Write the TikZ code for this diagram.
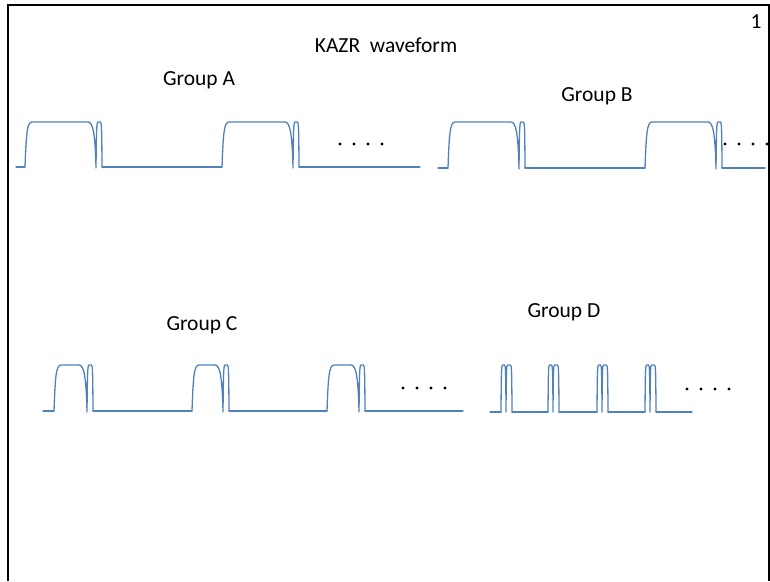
\documentclass[tikz,border=0pt]{standalone}
\usepackage{fontspec}
\setmainfont{Carlito}
\definecolor{wavecol}{RGB}{79,129,189}
\tikzset{
  wave/.style={draw=wavecol, line width=1.3pt, line join=round, line cap=round},
  frameline/.style={draw=black, line width=2pt},
  lbl/.style={inner sep=0pt, font=\fontsize{21.5}{26}\selectfont},
  dotmark/.style={fill=black, draw=none}
}
% wide pulse followed by a narrow pulse: #1 rise x, #2 dip x, #3 baseline y, #4 top y
\newcommand\kazrwide[4]{%
  \draw[wave] (#1,#3) .. controls (#1+1.2,#4+12) and (#1+2,#4) .. (#1+7,#4)
    -- (#2-8,#4) .. controls (#2-3,#4) and (#2-0.8,#4+12) .. (#2,#3+1)
    .. controls (#2+0.4,#4+10) and (#2+0.5,#4) .. (#2+2,#4)
    -- (#2+4.5,#4) .. controls (#2+5.6,#4) and (#2+5.8,#4+8) .. (#2+6,#3);}
% pair of narrow pulses: #1 rise x, #2 baseline y, #3 top y
\newcommand\kazrpair[3]{%
  \draw[wave] (#1,#2) .. controls (#1+0.3,#3+8) and (#1+0.4,#3) .. (#1+1.5,#3)
    -- (#1+3.5,#3) .. controls (#1+4.6,#3) and (#1+4.8,#3+8) .. (#1+5,#2)
    .. controls (#1+5.3,#3+8) and (#1+5.4,#3) .. (#1+6.5,#3)
    -- (#1+9.5,#3) .. controls (#1+10.6,#3) and (#1+10.8,#3+8) .. (#1+11,#2);}
\newcommand\kazrdots[2]{%
  \foreach \dx in {0,14,28,42} \fill[dotmark] (#1+\dx,#2) circle (1.6);}
\begin{document}
\begin{tikzpicture}[x=1pt,y=-1pt]
\useasboundingbox (0,0) rectangle (770,581);
% page frame
\draw[frameline] (8,581) -- (8,5) -- (769,5) -- (769,581);

% titles
\node[lbl] (title) at (386,45) {KAZR\ \ waveform};
\node[lbl] (pagenum) at (756,22) {1};
\node[lbl] (ga) at (199,80) {Group A};
\node[lbl] (gb) at (597,96) {Group B};
\node[lbl] (gc) at (202,325) {Group C};
\node[lbl] (gd) at (564,312) {Group D};

% Group A
\draw[wave] (16,167) -- (25,167);
\kazrwide{25}{96}{167}{122}
\draw[wave] (102,167) -- (222,167);
\kazrwide{222}{293}{167}{122}
\draw[wave] (299,167) -- (420,167);
\kazrdots{340}{144}

% Group B
\draw[wave] (438,168) -- (448,168);
\kazrwide{448}{519}{168}{122}
\draw[wave] (525,168) -- (645,168);
\kazrwide{645}{716}{168}{122}
\draw[wave] (722,168) -- (765,168);
\kazrdots{725}{144}

% Group C
\draw[wave] (43,411) -- (54,411);
\kazrwide{54}{87}{411}{365}
\draw[wave] (93,411) -- (192,411);
\kazrwide{192}{223}{411}{365}
\draw[wave] (229,411) -- (327,411);
\kazrwide{327}{359}{411}{365}
\draw[wave] (365,411) -- (463,411);
\kazrdots{403}{388}

% Group D
\draw[wave] (490,412) -- (501,412);
\kazrpair{501}{412}{365}
\draw[wave] (512,412) -- (548,412);
\kazrpair{548}{412}{365}
\draw[wave] (559,412) -- (597,412);
\kazrpair{597}{412}{365}
\draw[wave] (608,412) -- (645,412);
\kazrpair{645}{412}{365}
\draw[wave] (656,412) -- (692,412);
\kazrdots{687}{389}
\end{tikzpicture}
\end{document}
